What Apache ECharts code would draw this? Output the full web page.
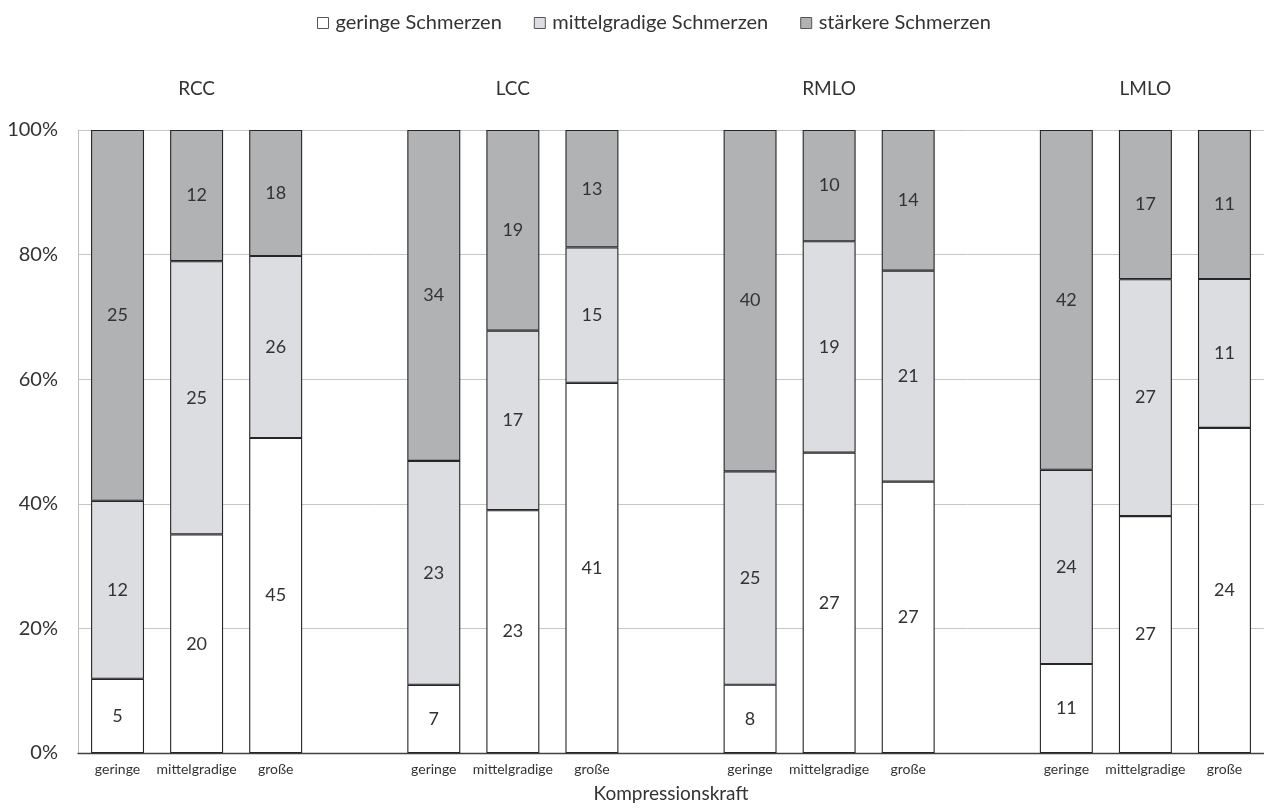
<!DOCTYPE html>
<html>
<head>
<meta charset="utf-8">
<script src="https://cdn.jsdelivr.net/npm/echarts@6/dist/echarts.min.js"></script>
<style>
  html, body { margin: 0; padding: 0; background: #fff; }
  #chart { width: 1264px; height: 809px; }
</style>
</head>
<body>
<div id="chart"></div>
<script>
// Views (groups) and compression levels (bars within each group)
const views = ['RCC', 'LCC', 'RMLO', 'LMLO'];
const levels = ['geringe', 'mittelgradige', 'große'];
const seriesNames = ['geringe Schmerzen', 'mittelgradige Schmerzen', 'stärkere Schmerzen'];

// Patient counts per view x compression level, in the order of views/levels
const geringeSchmerzen   = [5, 20, 45,   7, 23, 41,   8, 27, 27,   11, 27, 24];
const mittelSchmerzen    = [12, 25, 26,  23, 17, 15,  25, 19, 21,  24, 27, 11];
const staerkereSchmerzen = [25, 12, 18,  34, 19, 13,  40, 10, 14,  42, 17, 11];

const yTicks = [0, 20, 40, 60, 80, 100];

// Build a slot list: three bars per view, one empty slot between views
const slots = [];
views.forEach((v, gi) => {
  levels.forEach((lv, li) => slots.push({ view: v, level: lv, idx: gi * 3 + li }));
  if (gi < views.length - 1) slots.push(null);
});

const countsBySeries = [geringeSchmerzen, mittelSchmerzen, staerkereSchmerzen];
const totals = geringeSchmerzen.map((_, i) =>
  geringeSchmerzen[i] + mittelSchmerzen[i] + staerkereSchmerzen[i]);

const bottomLabels = slots.map(s => s ? s.level : '');
const topLabels = slots.map(s => (s && s.level === levels[1]) ? s.view : '');

const colors = ['#ffffff', '#dcdde0', '#b1b2b4'];
const font = 'Lato, "Open Sans", sans-serif';
const textColor = '#333333';

const series = countsBySeries.map((counts, si) => ({
  name: seriesNames[si],
  type: 'bar',
  stack: 'total',
  barWidth: '67%',
  itemStyle: { color: colors[si], borderColor: '#262626', borderWidth: 1.1 },
  label: {
    show: true,
    position: 'inside',
    fontFamily: font,
    fontSize: 18,
    color: textColor,
    formatter: p => {
      const s = slots[p.dataIndex];
      return s ? String(counts[s.idx]) : '';
    }
  },
  data: slots.map(s => s ? (counts[s.idx] / totals[s.idx] * 100) : '-')
}));

const chart = echarts.init(document.getElementById('chart'), null, { renderer: 'canvas' });
chart.setOption({
  animation: false,
  backgroundColor: '#ffffff',
  textStyle: { fontFamily: font, color: textColor },
  legend: {
    top: 8,
    left: 312,
    itemWidth: 11,
    itemHeight: 11,
    itemGap: 32,
    icon: 'rect',
    textStyle: { fontFamily: font, fontSize: 20, color: textColor, padding: [0, 0, 0, 2] },
    data: seriesNames.map((n, i) => ({
      name: n,
      itemStyle: { color: colors[i], borderColor: '#555555', borderWidth: 1 }
    }))
  },
  grid: { left: 78, top: 130, width: 1189, bottom: 56, containLabel: false },
  xAxis: [
    {
      type: 'category',
      position: 'bottom',
      data: bottomLabels,
      name: 'Kompressionskraft',
      nameLocation: 'middle',
      nameGap: 31,
      nameTextStyle: { fontFamily: font, fontSize: 19, color: textColor },
      axisLine: { show: true, lineStyle: { color: '#404040', width: 1.3 } },
      axisTick: { show: false },
      axisLabel: { interval: 0, fontFamily: font, fontSize: 14, color: textColor, margin: 9 }
    },
    {
      type: 'category',
      position: 'top',
      data: topLabels,
      axisLine: { show: false },
      axisTick: { show: false },
      axisLabel: { interval: 0, fontFamily: font, fontSize: 19, color: textColor, margin: 32 }
    }
  ],
  yAxis: {
    type: 'value',
    min: yTicks[0],
    max: yTicks[yTicks.length - 1],
    interval: 20,
    axisLine: { show: true, lineStyle: { color: '#bfbfbf' } },
    axisTick: { show: false },
    splitLine: { show: true, lineStyle: { color: '#c6c6c6', width: 1 } },
    axisLabel: { fontFamily: font, fontSize: 20, color: textColor, margin: 20, formatter: '{value}%' }
  },
  series: series
});
</script>
</body>
</html>
